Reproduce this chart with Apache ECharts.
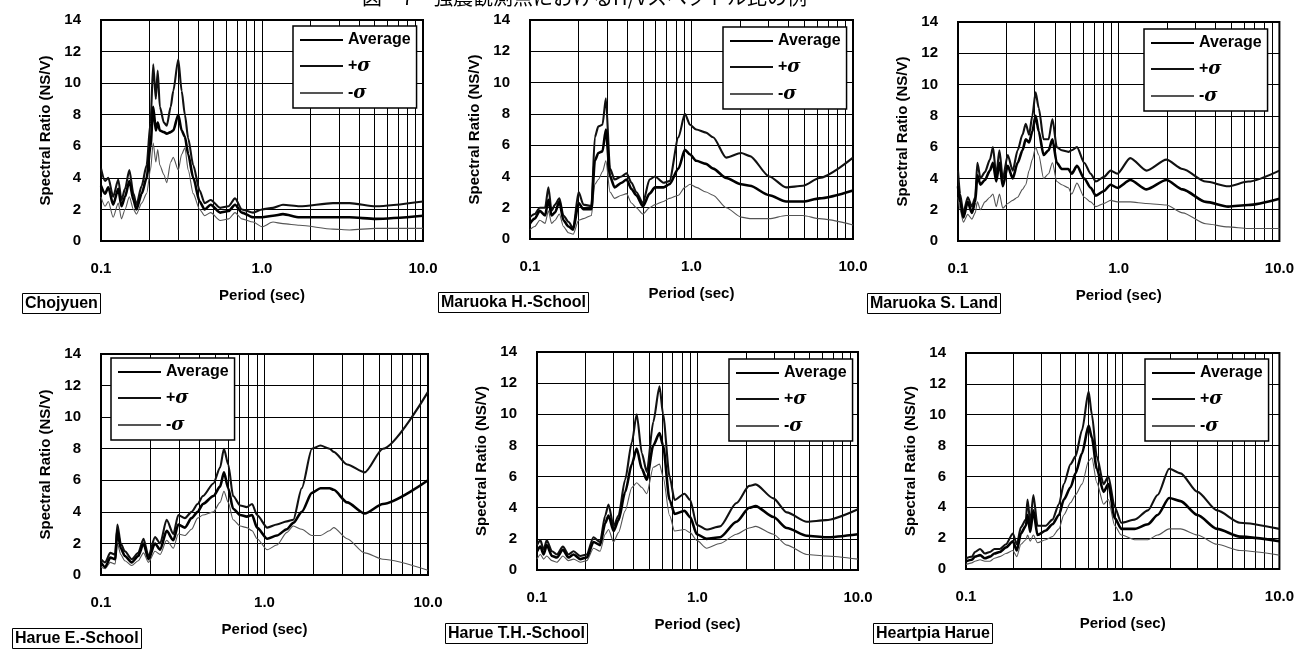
<!DOCTYPE html>
<html>
<head>
<meta charset="utf-8">
<script src="https://cdn.jsdelivr.net/npm/echarts@6/dist/echarts.min.js"></script>
<style>
html, body { margin: 0; padding: 0; background: #fff; }
#chart { width: 1297px; height: 652px; }
</style>
</head>
<body>
<div id="chart"></div>
<script>
const figureTitle = "図－7　強震観測点におけるH/Vスペクトル比の例";
const stations = ["Chojyuen", "Maruoka H.-School", "Maruoka S. Land", "Harue E.-School", "Harue T.H.-School", "Heartpia Harue"];
const seriesNames = ["Average", "+σ", "-σ"];
const gridPeriods = [0.2, 0.3, 0.4, 0.5, 0.6, 0.7, 0.8, 0.9, 1, 2, 3, 4, 5, 6, 7, 8, 9];

// Chojyuen
const chojyuenPeriod = [0.1, 0.106, 0.111, 0.119, 0.128, 0.134, 0.141, 0.15, 0.159, 0.166, 0.179, 0.192, 0.203, 0.211, 0.219, 0.225, 0.232, 0.246, 0.256, 0.271, 0.281, 0.302, 0.317, 0.332, 0.348, 0.374, 0.41, 0.44, 0.48, 0.55, 0.62, 0.68, 0.75, 0.88, 1.0, 1.17, 1.35, 1.71, 2.76, 3.5, 5.1, 10];
const chojyuenAvg = [3.5, 3.0, 3.4, 2.3, 3.3, 2.2, 2.8, 3.8, 2.6, 2.0, 3.0, 4.0, 6.0, 8.5, 7.0, 7.5, 7.0, 6.9, 6.8, 6.9, 7.0, 8.0, 7.0, 6.6, 5.5, 4.0, 2.5, 2.0, 2.3, 1.8, 1.9, 2.3, 1.8, 1.5, 1.5, 1.6, 1.7, 1.5, 1.5, 1.5, 1.4, 1.6];
const chojyuenPlus = [4.6, 3.8, 4.0, 2.8, 3.9, 2.6, 3.3, 4.5, 3.0, 2.3, 3.5, 4.8, 7.5, 11.2, 9.0, 10.8, 8.5, 7.5, 7.3, 8.5, 9.5, 11.5, 9.5, 8.0, 6.5, 4.8, 3.2, 2.4, 2.6, 2.1, 2.2, 2.7, 2.0, 1.8, 2.0, 2.1, 2.3, 2.2, 2.4, 2.4, 2.2, 2.5];
const chojyuenMinus = [2.8, 2.2, 2.5, 1.5, 2.4, 1.4, 2.0, 2.8, 2.0, 1.7, 2.4, 3.0, 4.5, 6.2, 5.0, 5.8, 4.8, 4.2, 3.7, 5.0, 5.3, 4.5, 5.5, 5.9, 4.5, 3.0, 2.0, 1.6, 1.8, 1.3, 1.4, 1.8, 1.4, 1.2, 0.9, 1.2, 1.1, 1.0, 0.75, 0.7, 0.8, 0.8];

// Maruoka H.-School
const maruokaHPeriod = [0.1, 0.107, 0.115, 0.124, 0.13, 0.136, 0.143, 0.152, 0.161, 0.173, 0.185, 0.2, 0.214, 0.24, 0.252, 0.265, 0.281, 0.295, 0.313, 0.334, 0.369, 0.396, 0.425, 0.455, 0.5, 0.55, 0.594, 0.67, 0.73, 0.83, 0.91, 0.98, 1.07, 1.23, 1.36, 1.64, 2.03, 2.3, 3.03, 3.85, 4.9, 6.2, 10];
const maruokaHAvg = [1.0, 1.3, 1.8, 1.5, 2.5, 1.5, 1.7, 2.4, 1.2, 0.8, 0.6, 2.3, 1.9, 1.9, 5.0, 5.5, 5.6, 7.0, 4.0, 3.3, 3.6, 3.8, 3.2, 2.8, 2.1, 2.9, 3.3, 3.3, 3.5, 4.5, 5.7, 5.4, 5.0, 4.8, 4.5, 3.9, 3.5, 3.4, 2.8, 2.4, 2.4, 2.6, 3.1];
const maruokaHPlus = [1.4, 1.6, 2.0, 2.0, 3.3, 1.8, 2.2, 2.6, 1.5, 1.1, 0.7, 3.0, 2.2, 2.1, 6.5, 7.2, 7.3, 9.0, 4.5, 3.8, 4.0, 4.2, 3.6, 3.0, 2.3, 3.8, 4.0, 3.6, 3.7, 6.5, 8.0, 7.3, 7.0, 6.8, 6.5, 5.2, 5.5, 5.3, 4.0, 3.3, 3.4, 3.9, 5.2];
const maruokaHMinus = [0.6, 0.8, 1.2, 1.0, 1.8, 1.0, 1.2, 1.6, 0.8, 0.4, 0.3, 1.2, 1.3, 1.5, 3.5, 3.8, 4.3, 5.0, 3.0, 2.6, 2.8, 2.9, 2.3, 2.0, 1.6, 2.0, 2.2, 2.4, 2.6, 2.8, 3.3, 3.5, 3.3, 3.0, 2.8, 2.0, 1.4, 1.3, 1.3, 1.5, 1.5, 1.3, 0.9];

// Maruoka S. Land
const maruokaSPeriod = [0.1, 0.103, 0.108, 0.115, 0.122, 0.128, 0.132, 0.138, 0.147, 0.158, 0.165, 0.173, 0.181, 0.19, 0.204, 0.219, 0.235, 0.252, 0.264, 0.277, 0.29, 0.304, 0.318, 0.341, 0.366, 0.387, 0.412, 0.442, 0.486, 0.51, 0.55, 0.61, 0.67, 0.72, 0.81, 0.89, 0.98, 1.18, 1.49, 1.98, 2.5, 3.48, 4.8, 6.4, 10];
const maruokaSAvg = [3.5, 2.5, 1.5, 2.5, 1.8, 2.5, 4.2, 3.6, 3.9, 4.5, 5.0, 3.8, 5.0, 3.5, 4.8, 4.0, 5.0, 5.8, 6.5, 6.3, 7.0, 8.0, 7.0, 5.5, 5.8, 6.5, 5.0, 4.6, 4.6, 4.3, 4.8, 4.0, 3.4, 2.9, 3.2, 3.6, 3.4, 3.9, 3.3, 3.9, 3.3, 2.5, 2.2, 2.3, 2.7];
const maruokaSPlus = [4.5, 3.0, 1.8, 2.8, 2.2, 2.8, 5.0, 4.0, 4.4, 5.2, 6.0, 4.2, 5.8, 4.0, 5.5, 4.5, 5.8, 6.8, 7.5, 6.8, 8.0, 9.5, 8.5, 6.5, 6.5, 7.8, 6.0, 5.8, 5.7, 5.8, 6.0, 5.0, 4.3, 3.8, 4.1, 4.5, 4.3, 5.3, 4.5, 5.2, 4.6, 3.8, 3.5, 3.8, 4.5];
const maruokaSMinus = [2.8, 2.0, 1.2, 1.7, 1.4, 1.8, 2.5, 2.0, 2.5, 2.8, 3.0, 2.2, 3.0, 2.1, 2.4, 2.6, 2.8, 3.3, 3.6, 4.5, 5.2, 6.0, 5.5, 4.0, 4.3, 5.0, 3.8, 3.6, 3.4, 3.0, 3.7, 2.8, 2.5, 2.2, 2.4, 2.6, 2.5, 2.5, 2.4, 2.3, 1.8, 1.1, 0.9, 0.8, 0.8];

// Harue E.-School
const harueEPeriod = [0.1, 0.106, 0.114, 0.122, 0.126, 0.132, 0.14, 0.154, 0.169, 0.182, 0.195, 0.214, 0.23, 0.252, 0.277, 0.297, 0.326, 0.358, 0.39, 0.42, 0.487, 0.535, 0.565, 0.6, 0.643, 0.71, 0.78, 0.84, 0.9, 1.04, 1.19, 1.37, 1.5, 1.69, 1.95, 2.2, 2.5, 2.65, 3.2, 4.1, 5.3, 10];
const harueEAvg = [0.8, 0.5, 1.1, 1.0, 2.8, 1.7, 1.2, 0.8, 1.2, 2.0, 1.0, 2.0, 1.6, 2.8, 2.2, 3.2, 3.0, 3.6, 4.0, 4.5, 5.0, 5.6, 6.5, 5.5, 4.2, 3.8, 3.7, 3.8, 3.0, 2.3, 2.5, 2.9, 3.3, 4.0, 5.2, 5.5, 5.5, 5.4, 4.6, 3.9, 4.5, 6.0];
const harueEPlus = [1.0, 0.8, 1.4, 1.3, 3.2, 2.0, 1.5, 1.0, 1.4, 2.3, 1.2, 2.4, 2.0, 3.5, 2.6, 3.8, 3.6, 4.0, 4.5, 5.0, 5.8, 6.8, 8.0, 7.0, 5.0, 4.4, 4.3, 4.5, 3.8, 3.0, 3.2, 3.4, 3.5, 5.5, 8.0, 8.2, 8.0, 7.8, 7.0, 6.5, 8.0, 11.6];
const harueEMinus = [0.5, 0.4, 0.8, 0.7, 2.0, 1.3, 0.9, 0.6, 0.9, 1.4, 0.8, 1.5, 1.3, 2.2, 1.7, 2.6, 2.5, 2.9, 3.6, 3.8, 4.0, 4.6, 5.3, 4.6, 3.5, 3.1, 3.0, 2.8, 2.3, 1.6, 1.9, 2.7, 3.1, 2.9, 2.5, 2.5, 2.8, 3.0, 2.3, 1.4, 1.0, 0.3];

// Harue T.H.-School
const harueTPeriod = [0.1, 0.105, 0.11, 0.115, 0.124, 0.133, 0.145, 0.157, 0.169, 0.186, 0.204, 0.225, 0.247, 0.266, 0.279, 0.3, 0.322, 0.354, 0.39, 0.418, 0.45, 0.483, 0.53, 0.58, 0.61, 0.67, 0.72, 0.83, 0.9, 0.99, 1.14, 1.38, 1.75, 2.1, 2.3, 2.97, 3.6, 4.8, 6.3, 10];
const harueTAvg = [1.2, 1.5, 1.0, 1.6, 0.9, 0.8, 1.3, 0.8, 1.0, 0.7, 0.8, 1.8, 1.6, 3.0, 3.5, 2.5, 3.2, 5.0, 6.8, 7.8, 6.5, 5.8, 8.0, 8.8, 8.0, 4.5, 3.6, 3.8, 3.4, 2.3, 2.0, 2.1, 3.1, 4.0, 4.1, 3.4, 2.7, 2.2, 2.1, 2.3];
const harueTPlus = [1.6, 1.9, 1.3, 1.9, 1.2, 1.0, 1.5, 1.0, 1.2, 0.9, 1.0, 2.1, 1.8, 3.5, 4.2, 2.8, 3.5, 5.8, 8.2, 10.0, 7.5, 6.3, 9.5, 11.8, 10.0, 6.0, 4.5, 4.9, 4.5, 2.9, 2.6, 2.8, 4.3, 5.4, 5.5, 4.6, 3.7, 3.1, 3.2, 3.9];
const harueTMinus = [0.7, 1.0, 0.7, 0.9, 0.6, 0.5, 0.9, 0.6, 0.7, 0.5, 0.6, 1.4, 1.2, 2.3, 2.6, 1.8, 2.4, 3.8, 5.3, 5.6, 5.3, 4.9, 6.6, 6.8, 6.0, 3.5, 2.5, 2.6, 2.4, 1.9, 1.4, 1.7, 2.3, 2.7, 2.8, 2.3, 1.6, 1.0, 0.9, 0.7];

// Heartpia Harue
const heartpiaPeriod = [0.1, 0.109, 0.114, 0.123, 0.132, 0.142, 0.152, 0.164, 0.18, 0.199, 0.211, 0.224, 0.241, 0.247, 0.257, 0.269, 0.286, 0.323, 0.356, 0.392, 0.421, 0.465, 0.5, 0.55, 0.606, 0.636, 0.683, 0.755, 0.81, 0.89, 0.98, 1.19, 1.45, 1.67, 1.98, 2.34, 3.0, 4.0, 5.6, 10];
const heartpiaAvg = [0.5, 0.6, 0.8, 0.9, 0.7, 0.8, 1.0, 1.1, 1.4, 1.8, 1.2, 2.3, 2.8, 3.5, 2.4, 3.8, 2.2, 2.5, 2.9, 3.5, 4.5, 5.3, 6.2, 7.5, 9.3, 8.5, 6.5, 5.0, 5.5, 3.3, 2.6, 2.6, 2.9, 3.5, 4.6, 4.4, 3.5, 2.6, 2.1, 1.8];
const heartpiaPlus = [0.7, 0.8, 1.1, 1.3, 1.0, 1.1, 1.3, 1.3, 1.6, 2.3, 1.6, 2.7, 3.2, 4.5, 3.0, 4.8, 2.8, 2.8, 3.2, 4.2, 5.5, 6.8, 7.3, 9.0, 11.5, 10.0, 7.3, 5.5, 6.0, 4.0, 3.0, 3.2, 3.8, 4.8, 6.5, 6.2, 5.0, 3.8, 3.0, 2.6];
const heartpiaMinus = [0.3, 0.4, 0.5, 0.6, 0.5, 0.5, 0.7, 0.8, 1.0, 1.2, 0.8, 1.6, 1.9, 2.2, 1.8, 2.2, 1.7, 1.9, 2.1, 2.6, 3.5, 4.3, 4.8, 5.5, 7.0, 7.2, 5.6, 4.2, 4.5, 2.8, 2.2, 1.9, 1.9, 2.2, 2.6, 2.6, 2.2, 1.6, 1.2, 0.9];

const panels = [
    { period: chojyuenPeriod, avg: chojyuenAvg, plus: chojyuenPlus, minus: chojyuenMinus },
    { period: maruokaHPeriod, avg: maruokaHAvg, plus: maruokaHPlus, minus: maruokaHMinus },
    { period: maruokaSPeriod, avg: maruokaSAvg, plus: maruokaSPlus, minus: maruokaSMinus },
    { period: harueEPeriod, avg: harueEAvg, plus: harueEPlus, minus: harueEMinus },
    { period: harueTPeriod, avg: harueTAvg, plus: harueTPlus, minus: harueTMinus },
    { period: heartpiaPeriod, avg: heartpiaAvg, plus: heartpiaPlus, minus: heartpiaMinus }
];

// pixel layout: plot box [left, top, width, height], legend box corner, station label corner
const layouts = [
    { grid: [101, 20, 322, 221], legend: [293, 26], label: [22, 293] },
    { grid: [530, 20, 323, 219], legend: [723, 27], label: [438, 292] },
    { grid: [958, 22, 327, 219], legend: [1144, 29], label: [867, 293] },
    { grid: [101, 354, 327, 221], legend: [111, 358], label: [12, 628] },
    { grid: [537, 352, 321, 218], legend: [729, 359], label: [445, 623] },
    { grid: [966, 353, 317, 216], legend: [1145, 359], label: [873, 623] }
];

const FONT = "Liberation Sans";
const lineStyles = [
    { width: 2.6, color: "#000" },
    { width: 2.1, color: "#111" },
    { width: 1.1, color: "#555" }
];

function pairs(xs, ys) {
    return xs.map((x, i) => [x, ys[i]]);
}

const grid = [], xAxis = [], yAxis = [], legend = [], title = [], series = [];

layouts.forEach((lay, k) => {
    const [left, top, width, height] = lay.grid;
    grid.push({ left, top, width, height, show: true, borderColor: "#000", borderWidth: 2, backgroundColor: "transparent" });

    xAxis.push({
        gridIndex: k, type: "log", logBase: 10, min: 0.1, max: 10,
        axisLine: { show: false }, axisTick: { show: false }, splitLine: { show: false },
        axisLabel: {
            margin: 20, color: "#000", fontSize: 15, fontWeight: "bold", fontFamily: FONT,
            showMinLabel: true, showMaxLabel: true,
            formatter: (v) => Number(v).toFixed(1)
        },
        name: "Period (sec)", nameLocation: "middle", nameGap: 47,
        nameTextStyle: { color: "#000", fontSize: 15, fontWeight: "bold", fontFamily: FONT }
    });

    yAxis.push({
        gridIndex: k, type: "value", min: 0, max: 14, interval: 2,
        axisLine: { show: false }, axisTick: { show: false },
        splitLine: { show: true, lineStyle: { color: "#000", width: 1 } },
        axisLabel: { margin: 20, color: "#000", fontSize: 15, fontWeight: "bold", fontFamily: FONT },
        name: "Spectral Ratio (NS/V)", nameLocation: "middle", nameGap: 48,
        nameTextStyle: { color: "#000", fontSize: 15, fontWeight: "bold", fontFamily: FONT }
    });

    legend.push({
        data: seriesNames, orient: "vertical",
        left: lay.legend[0], top: lay.legend[1],
        itemWidth: 43, itemHeight: 14, itemGap: 9, itemTextGap: 5,
        padding: [6, 6, 6, 6],
        backgroundColor: "#fff", borderColor: "#000", borderWidth: 1.5, borderRadius: 0,
        selectedMode: false,
        itemStyle: { opacity: 0 },
        formatter: (name) => name.replace("σ", "{s|σ}"),
        textStyle: {
            color: "#000", fontSize: 16, fontWeight: "bold", fontFamily: FONT, lineHeight: 14,
            rich: { s: { fontSize: 18, lineHeight: 14, fontStyle: "italic", fontFamily: "DejaVu Serif", color: "#000" } }
        }
    });

    title.push({
        text: stations[k], left: lay.label[0], top: lay.label[1],
        padding: [3, 3, 2, 3], borderColor: "#000", borderWidth: 1,
        textStyle: { color: "#000", fontSize: 16, fontWeight: "bold", fontFamily: FONT }
    });

    const p = panels[k];
    const values = [p.avg, p.plus, p.minus];
    seriesNames.forEach((name, j) => {
        series.push({
            name, type: "line", xAxisIndex: k, yAxisIndex: k,
            data: pairs(p.period, values[j]),
            symbol: "none", smooth: 0.25, smoothMonotone: "x",
            color: lineStyles[j].color,
            lineStyle: lineStyles[j], z: 4 - j,
            markLine: j === 2 ? {
                silent: true, symbol: ["none", "none"], z: 1,
                label: { show: false },
                lineStyle: { color: "#000", width: 1, type: "solid" },
                data: gridPeriods.map((v) => ({ xAxis: v }))
            } : undefined
        });
    });
});

const chart = echarts.init(document.getElementById("chart"), null, { renderer: "canvas" });
chart.setOption({
    animation: false,
    backgroundColor: "#fff",
    title, grid, xAxis, yAxis, legend, series,
    graphic: [{
        type: "text", left: 362, top: -13,
        style: { text: figureTitle, fill: "#000", font: '20px "Noto Sans CJK JP"' }
    }]
});
</script>
</body>
</html>
